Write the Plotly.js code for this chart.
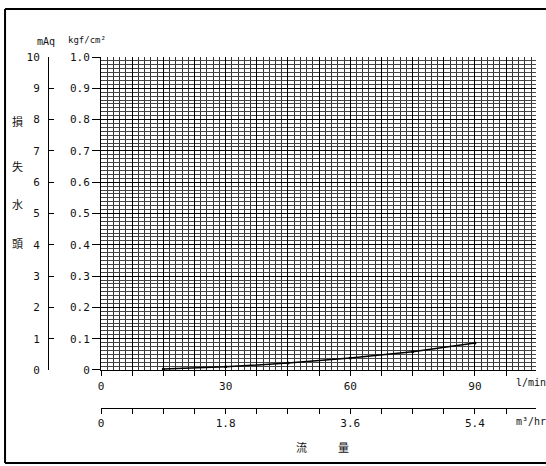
<!DOCTYPE html>
<html><head><meta charset="utf-8">
<script src="https://cdn.plot.ly/plotly-3.0.1.min.js"></script>
<style>html,body{margin:0;padding:0;background:#fff}</style>
</head><body><div id="chart" style="width:546px;height:466px"></div>
<script>
// data
const flowLmin = [15, 30, 45, 60, 75, 90];
const lossKgf = [0.003, 0.010, 0.022, 0.038, 0.058, 0.086];

// tick labels
const xTickVals = [0, 7.5, 15, 22.5, 30, 37.5, 45, 52.5, 60, 67.5, 75, 82.5, 90, 97.5];
const xTickText = ["0", "", "", "", "30", "", "", "", "60", "", "", "", "90", ""];
const yTickVals = [0, 0.1, 0.2, 0.3, 0.4, 0.5, 0.6, 0.7, 0.8, 0.9, 1.0];
const yTickText = ["0", "0.1", "0.2", "0.3", "0.4", "0.5", "0.6", "0.7", "0.8", "0.9", "1.0"];
const mAqTickVals = [0, 1, 2, 3, 4, 5, 6, 7, 8, 9, 10];
const m3hTickVals = [0, 1.8, 3.6, 5.4];
const m3hTickText = ["0", "1.8", "3.6", "5.4"];

const xMax = 104.7;
const numFont = {family: "DejaVu Sans Mono, monospace", size: 11, color: "#111"};
const cjk = "Noto Sans CJK JP";

const trace = {
  x: flowLmin, y: lossKgf, type: "scatter", mode: "lines+markers",
  line: {color: "#000", width: 1.5}, marker: {color: "#000", size: 3},
  xaxis: "x", yaxis: "y", showlegend: false, hoverinfo: "none"
};
// same curve in m3/h and mAq units, invisible, so the secondary axes get drawn
const traceAlt = {
  x: flowLmin.map(v => v * 0.06), y: lossKgf.map(v => v * 10), type: "scatter", mode: "none",
  xaxis: "x2", yaxis: "y2", showlegend: false, hoverinfo: "none"
};

function ann(text, x, y, fam, size) {
  return {text: text, x: x, y: y, xref: "paper", yref: "paper", xanchor: "center", yanchor: "middle",
          showarrow: false, font: {family: fam, size: size, color: "#111"}};
}

const layout = {
  width: 546, height: 466,
  margin: {l: 20, r: 10, t: 57, b: 20},
  paper_bgcolor: "#fff", plot_bgcolor: "#fff",
  showlegend: false,
  xaxis: {
    domain: [0.157, 1], range: [0, xMax],
    tickmode: "array", tickvals: xTickVals, ticktext: xTickText,
    ticks: "outside", ticklen: 5, tickcolor: "#000", tickfont: numFont,
    showgrid: true, gridcolor: "#000", gridwidth: 1,
    minor: {dtick: 1.5, showgrid: true, gridcolor: "#333", gridwidth: 1},
    showline: true, linecolor: "#000", linewidth: 1.5, zeroline: false
  },
  yaxis: {
    domain: [0.1954, 1], range: [0, 1.0],
    tickmode: "array", tickvals: yTickVals, ticktext: yTickText,
    ticks: "outside", ticklen: 8, tickcolor: "#000", tickfont: numFont,
    showgrid: true, gridcolor: "#000", gridwidth: 1,
    minor: {dtick: 0.0125, showgrid: true, gridcolor: "#444", gridwidth: 1},
    showline: true, linecolor: "#000", linewidth: 1, zeroline: false
  },
  yaxis2: {
    overlaying: "y", anchor: "free", position: 0.0543, side: "left",
    range: [0, 10], tickmode: "array", tickvals: mAqTickVals,
    ticks: "inside", ticklen: 5, tickcolor: "#000", tickfont: numFont,
    ticklabelstandoff: 6,
    showline: true, linecolor: "#000", linewidth: 1,
    showgrid: false, zeroline: false
  },
  xaxis2: {
    overlaying: "x", anchor: "free", position: 0.0977, side: "bottom",
    range: [0, xMax * 0.06], tickmode: "array", tickvals: m3hTickVals, ticktext: m3hTickText,
    ticks: "outside", ticklen: 5, tickcolor: "#000", tickfont: numFont,
    minor: {dtick: 0.45, ticks: "outside", ticklen: 5, tickcolor: "#000", showgrid: false},
    showline: true, linecolor: "#000", linewidth: 1,
    showgrid: false, zeroline: false
  },
  annotations: [
    ann("mAq", 0.05, 1.0386, "DejaVu Sans Mono", 10),
    ann("kgf/cm²", 0.13, 1.044, "DejaVu Sans Mono", 9),
    ann("損", -0.004, 0.8355, cjk, 11),
    ann("失", -0.004, 0.72, cjk, 11),
    ann("水", -0.004, 0.622, cjk, 11),
    ann("頭", -0.004, 0.522, cjk, 11),
    ann("l/min", 0.99, 0.1645, "DejaVu Sans Mono", 10),
    ann("m³/hr", 0.99, 0.064, "DejaVu Sans Mono", 10),
    ann("流", 0.5465, -0.0026, cjk, 11),
    ann("量", 0.626, -0.0026, cjk, 11)
  ],
  shapes: [
    {type: "line", xref: "paper", yref: "paper", x0: -0.029, x1: 1.02, y0: 1.1234, y1: 1.1234, line: {color: "#000", width: 2}},
    {type: "line", xref: "paper", yref: "paper", x0: -0.029, x1: -0.029, y0: 1.1234, y1: -0.0437, line: {color: "#000", width: 2}},
    {type: "line", xref: "paper", yref: "paper", x0: -0.029, x1: 1.02, y0: -0.0437, y1: -0.0437, line: {color: "#000", width: 2}}
  ]
};

Plotly.newPlot("chart", [trace, traceAlt], layout, {displayModeBar: false, staticPlot: true});
</script></body></html>
